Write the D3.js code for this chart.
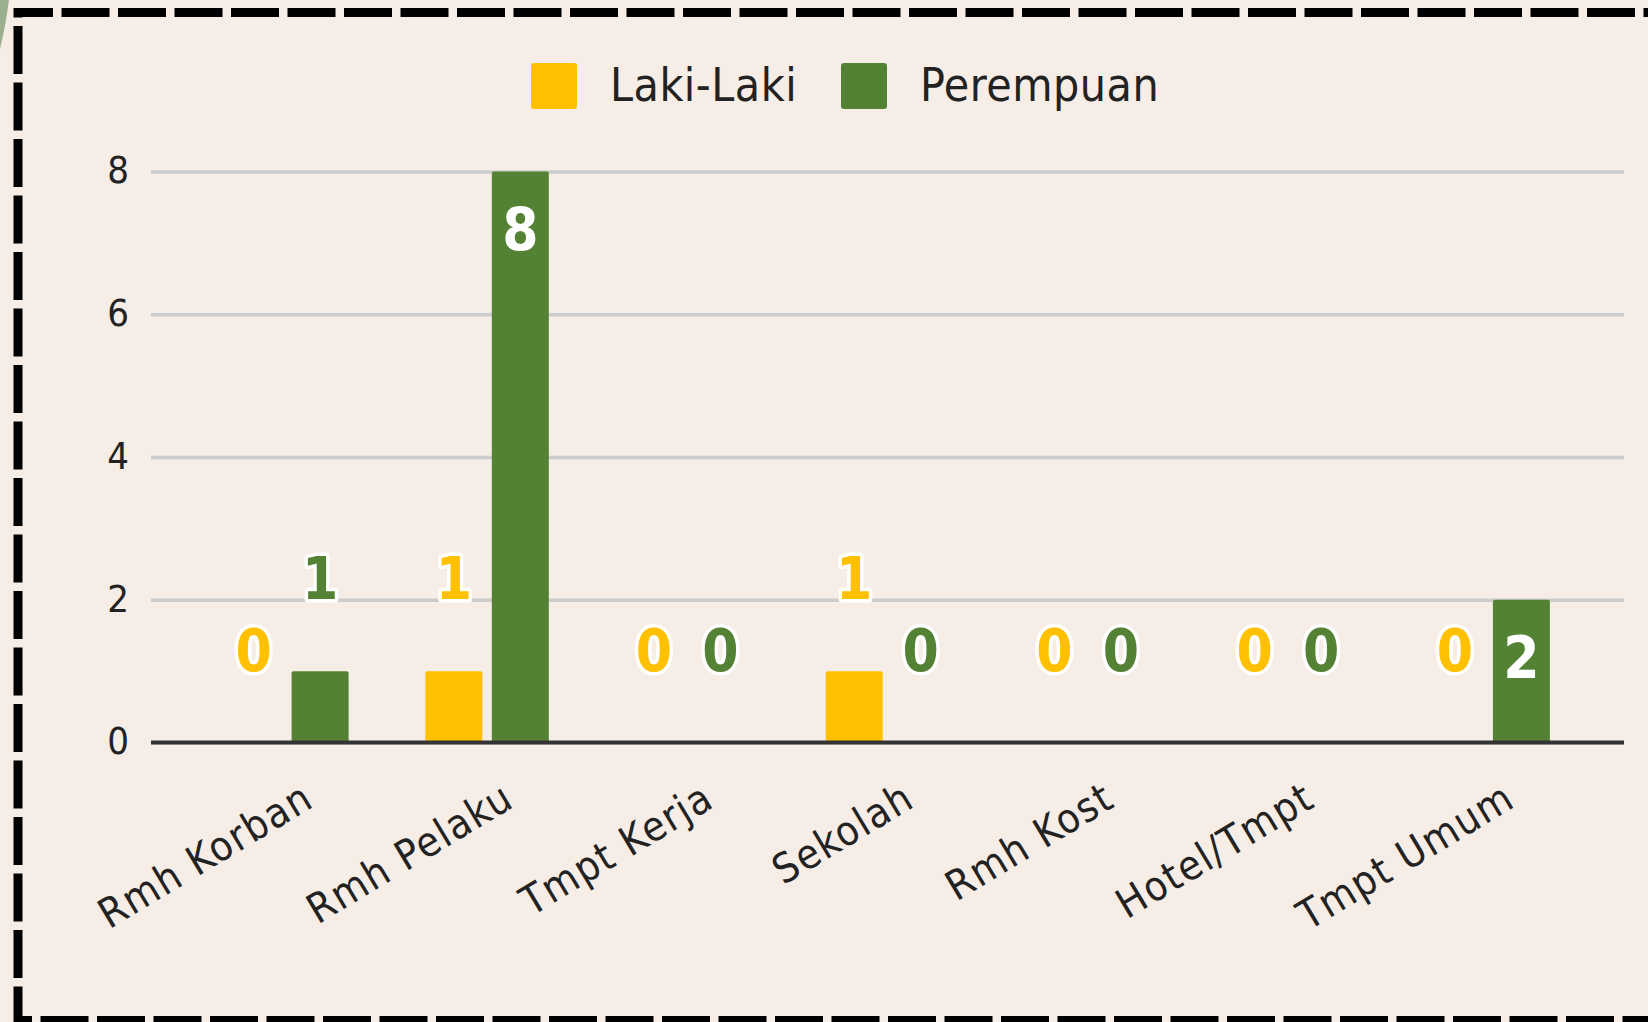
<!DOCTYPE html>
<html>
<head>
<meta charset="utf-8">
<script src="https://cdn.jsdelivr.net/npm/d3@7"></script>
<style>
  html, body { margin: 0; padding: 0; background: #f5ede6; }
  svg { display: block; }
</style>
</head>
<body>
<svg id="chart" width="1648" height="1022"></svg>
<script>
const categories = ["Rmh Korban", "Rmh Pelaku", "Tmpt Kerja", "Sekolah", "Rmh Kost", "Hotel/Tmpt", "Tmpt Umum"];
const seriesNames = ["Laki-Laki", "Perempuan"];
const lakiLaki = [0, 1, 0, 1, 0, 0, 0];
const perempuan = [1, 8, 0, 0, 0, 0, 2];
const seriesColors = ["#ffc000", "#548235"];
const yTicks = [0, 2, 4, 6, 8];

(function () {
const seriesValues = [lakiLaki, perempuan];
const rows = categories.map((c, i) => ({
  cat: c,
  vals: seriesNames.map((s, j) => ({ key: s, value: seriesValues[j][i], color: seriesColors[j] }))
}));

const NARROW = '"DejaVu Sans Condensed", "DejaVu Sans", sans-serif';
const svg = d3.select("#chart");
const W = 1648, H = 1022;

svg.append("rect").attr("width", W).attr("height", H).attr("fill", "#f5ede6");
svg.append("circle").attr("cx", -400).attr("cy", -50).attr("r", 412).attr("fill", "#9bb08f");
svg.append("rect").attr("x", 14).attr("y", 9).attr("width", W).attr("height", H).attr("fill", "#f5ede6");
svg.append("rect")
  .attr("x", 18).attr("y", 12.5).attr("width", 1700).attr("height", 1008)
  .attr("fill", "none").attr("stroke", "#000").attr("stroke-width", 9)
  .attr("stroke-dasharray", "48 8.5").attr("stroke-dashoffset", 13);

const pLeft = 151, pRight = 1624, pTop = 171.5, pBottom = 742.5;
const y = d3.scaleLinear().domain([0, 8]).range([pBottom, pTop]);
const x0 = d3.scaleBand().domain(categories).range([pLeft, pRight]).paddingInner(0.383).paddingOuter(0.37);
const x1 = d3.scaleBand().domain(seriesNames).range([0, x0.bandwidth()]).paddingInner(0.143).paddingOuter(0);

const yAxis = d3.axisLeft(y).tickValues(yTicks).tickSize(-(pRight - pLeft)).tickFormat(d3.format("d"));
const gy = svg.append("g").attr("transform", `translate(${pLeft},0)`).call(yAxis);
gy.select(".domain").remove();
gy.selectAll(".tick line").attr("stroke", "#cccccc").attr("stroke-width", 3.5);
gy.selectAll(".tick text")
  .attr("x", -22).attr("dy", "0.3em")
  .attr("fill", "#222").style("font-family", NARROW).style("font-size", "38px");

const groups = svg.append("g").selectAll("g").data(rows).join("g")
  .attr("transform", d => `translate(${x0(d.cat)},0)`);
groups.selectAll("rect").data(d => d.vals.filter(v => v.value > 0)).join("rect")
  .attr("x", d => x1(d.key)).attr("width", x1.bandwidth())
  .attr("y", d => y(d.value)).attr("height", d => y(0) - y(d.value))
  .attr("rx", 2).attr("fill", d => d.color);

svg.append("line").attr("x1", pLeft).attr("x2", pRight).attr("y1", y(0)).attr("y2", y(0))
  .attr("stroke", "#333").attr("stroke-width", 4);

groups.selectAll("text.val").data(d => d.vals).join("text")
  .attr("class", "val")
  .attr("x", d => x1(d.key) + x1.bandwidth() / 2)
  .attr("y", d => d.value >= 2 ? y(d.value) + 78 : y(d.value) - 72)
  .attr("text-anchor", "middle")
  .style("font-family", NARROW).style("font-size", "58px").style("font-weight", "bold")
  .attr("fill", d => d.value >= 2 ? "#fff" : d.color)
  .attr("stroke", d => d.value >= 2 ? "none" : "#fff")
  .attr("stroke-width", 7).attr("stroke-linejoin", "round").attr("paint-order", "stroke")
  .text(d => d.value);

const xAxis = d3.axisBottom(x0).tickSize(0).tickPadding(0);
const gx = svg.append("g").attr("transform", `translate(0,${y(0)})`).call(xAxis);
gx.select(".domain").remove();
gx.selectAll(".tick text")
  .attr("text-anchor", "end")
  .attr("y", 0).attr("dy", 0)
  .attr("transform", "translate(29,63) rotate(-31)")
  .attr("fill", "#222")
  .style("font-family", NARROW).style("font-size", "41px").style("letter-spacing", "1.5px");

const legendItems = [
  { name: seriesNames[0], color: seriesColors[0], x: 531, tx: 610 },
  { name: seriesNames[1], color: seriesColors[1], x: 841, tx: 920 }
];
const lg = svg.append("g");
lg.selectAll("rect").data(legendItems).join("rect")
  .attr("x", d => d.x).attr("y", 63).attr("width", 46).attr("height", 46).attr("rx", 3)
  .attr("fill", d => d.color);
lg.selectAll("text").data(legendItems).join("text")
  .attr("x", d => d.tx).attr("y", 101)
  .attr("fill", "#222")
  .style("font-family", NARROW).style("font-size", "46px").style("letter-spacing", "0.5px")
  .text(d => d.name);
})();
</script>
</body>
</html>
